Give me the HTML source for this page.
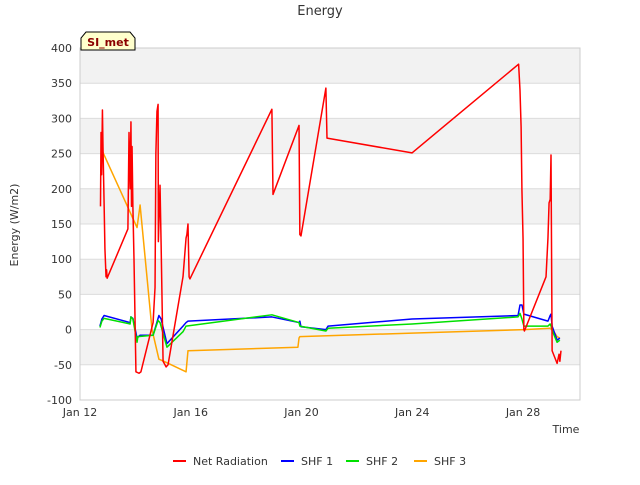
<!DOCTYPE html>
<html><head><meta charset="utf-8"><style>
body{margin:0;background:#fff;font-family:"Liberation Sans","DejaVu Sans",sans-serif}
svg text{font-family:"DejaVu Sans","Liberation Sans",sans-serif}
</style></head><body>
<svg id="c" width="640" height="480"></svg>
<script>
const yTicks=[-100,-50,0,50,100,150,200,250,300,350,400];
const xTickDays=[0,4,8,12,16];
const xTickLabels=["Jan 12","Jan 16","Jan 20","Jan 24","Jan 28"];
const netDays=[0.74,0.76,0.78,0.81,0.83,0.87,0.90,0.94,0.96,0.98,1.73,1.77,1.81,1.84,1.86,1.88,1.91,1.95,2.02,2.13,2.20,2.64,2.71,2.74,2.78,2.82,2.83,2.89,2.93,3.00,3.11,3.18,3.72,3.83,3.86,3.90,3.94,3.97,6.93,6.97,7.91,7.94,7.98,8.88,8.92,11.99,15.84,15.89,15.93,15.96,16.0,16.03,16.05,16.83,16.90,16.94,16.98,17.01,17.05,17.15,17.23,17.30,17.33,17.37];
const netVals=[175,280,220,312,260,180,115,75,85,73,143,280,200,295,175,260,175,100,-60,-62,-60,10,60,250,310,320,125,205,120,-45,-53,-50,75,130,135,150,75,72,313,192,290,135,133,343,272,251,377,340,288,198,130,0,-2,75,130,180,185,248,-30,-40,-48,-35,-45,-30];
const shf1Days=[0.72,0.79,0.87,1.81,1.84,1.91,2.06,2.17,2.64,2.85,2.93,3.14,3.72,3.83,3.90,6.93,7.91,7.94,7.98,8.88,8.96,11.99,15.82,15.89,15.96,16.03,16.90,16.98,17.01,17.05,17.23,17.33];
const shf1Vals=[5,15,20,10,18,16,-12,-8,-8,20,15,-20,5,10,12,18,10,12,4,0,5,15,20,35,35,22,12,20,22,5,-15,-12];
const shf2Days=[0.72,0.79,0.87,1.81,1.84,1.91,2.06,2.09,2.64,2.82,2.89,3.14,3.72,3.83,6.93,7.91,7.94,8.88,8.96,11.99,15.82,15.89,15.96,16.03,16.90,16.98,17.01,17.09,17.23,17.33];
const shf2Vals=[3,12,16,8,18,15,-18,-10,-8,13,10,-25,-3,5,21,10,5,-2,2,8,18,23,15,5,5,8,5,-5,-18,-15];
const shf3Days=[0.79,2.06,2.17,2.60,2.85,3.03,3.83,3.90,7.87,7.91,7.94,11.99,16.03,16.98,17.15,17.23,17.33];
const shf3Vals=[255,145,177,0,-42,-45,-60,-30,-25,-12,-10,-5,0,2,-5,-10,-12];

const NS="http://www.w3.org/2000/svg",svg=document.getElementById('c');
const L=80,R=580,T=48,B=400;
const xs=d=>L+d*27.69;
const ys=v=>B-(v+100)*(B-T)/500;
function el(t,a,p){const e=document.createElementNS(NS,t);for(const k in a)e.setAttribute(k,a[k]);(p||svg).appendChild(e);return e;}
const plot=el('rect',{x:L,y:T,width:R-L,height:B-T,fill:'#fff'});


for(let i=0;i<yTicks.length-1;i++){if(i%2===1){const b=el('rect',{x:L,y:ys(yTicks[i+1]),width:R-L,height:ys(yTicks[i])-ys(yTicks[i+1]),fill:'#f2f2f2'});}}
yTicks.forEach(v=>{const g=el('line',{x1:L,x2:R,y1:ys(v),y2:ys(v),stroke:'#dcdcdc','stroke-width':1});
const t=el('text',{x:L-8,y:ys(v)+4,'text-anchor':'end','font-size':11,fill:'#333'});t.textContent=v;});
xTickDays.forEach((d,i)=>{const t=el('text',{x:xs(d),y:B+16,'text-anchor':'middle','font-size':11,fill:'#333'});t.textContent=xTickLabels[i];});
const ax=el('rect',{x:L,y:T,width:R-L,height:B-T,fill:'none',stroke:'#ccc'});
function series(days,vals,color,name){const p=el('polyline',{points:days.map((d,i)=>xs(d)+','+ys(vals[i])).join(' '),fill:'none',stroke:color,'stroke-width':1.5,'stroke-linejoin':'round'});}
series(shf3Days,shf3Vals,'#ffa500','shf3-line');
series(shf1Days,shf1Vals,'#0000ff','shf1-line');
series(shf2Days,shf2Vals,'#00e000','shf2-line');
series(netDays,netVals,'#ff0000','net-radiation-line');
let t=el('text',{x:320,y:15,'text-anchor':'middle','font-size':13,fill:'#333'});t.textContent='Energy';
t=el('text',{x:566,y:433,'text-anchor':'middle','font-size':11,fill:'#333'});t.textContent='Time';
t=el('text',{x:18,y:225,'text-anchor':'middle','font-size':11,fill:'#333',transform:'rotate(-90 18 225)'});t.textContent='Energy (W/m2)';
const g=el('g',{});
el('path',{d:'M81,50 L81,38 L86,32 L130,32 L135,38 L135,50 Z',fill:'#ffffcc',stroke:'#000'},g);
t=el('text',{x:108,y:46,'text-anchor':'middle','font-size':11,'font-weight':'bold',fill:'#8b0000'},g);t.textContent='SI_met';
const leg=[['Net Radiation','#ff0000',173],['SHF 1','#0000ff',281],['SHF 2','#00e000',346],['SHF 3','#ffa500',414]];
leg.forEach(([n,c,x])=>{const lg=el('g',{});
el('line',{x1:x,x2:x+13,y1:461,y2:461,stroke:c,'stroke-width':2},lg);
const tt=el('text',{x:x+20,y:465,'font-size':11,fill:'#333'},lg);tt.textContent=n;});
</script>
</body></html>
